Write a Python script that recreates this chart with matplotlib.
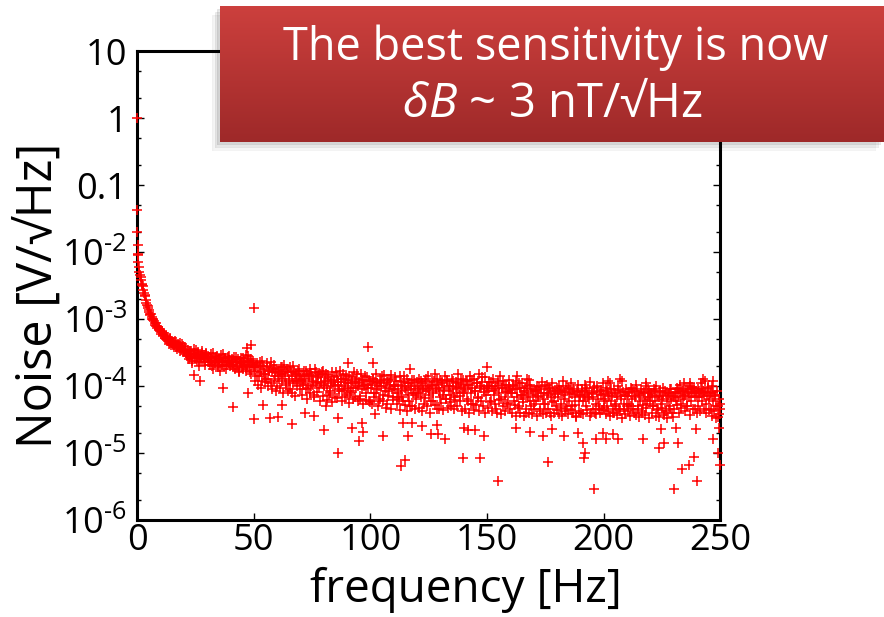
import numpy as np
import matplotlib
matplotlib.use("Agg")
import matplotlib.pyplot as plt
from matplotlib.ticker import FixedLocator, LogLocator, NullFormatter

plt.rcParams['font.family'] = ['Open Sans', 'DejaVu Sans']
plt.rcParams['mathtext.fontset'] = 'custom'
plt.rcParams['mathtext.rm'] = 'Open Sans'
plt.rcParams['mathtext.it'] = 'Open Sans:italic'

# noise spectrum, values in uV/sqrt(Hz)
# set A: bins at 0.5, 1.0, ... 250 Hz ; set B: bins at 0.25, 0.75, ... 249.75 Hz
band_step_hz = 0.5
band_a_0_50 = [7200, 5100, 4300, 3400, 3100, 2450, 2200, 1750, 1550, 1380,
               1200, 1180, 1020, 990, 880, 870, 780, 770, 700, 690,
               640, 590, 620, 530, 560, 500, 470, 520, 450, 480,
               430, 410, 460, 390, 420, 370, 440, 350, 400, 330,
               380, 310, 290, 350, 270, 330, 240, 300, 360, 260,
               290, 320, 230, 280, 250, 310, 270, 210, 300, 260,
               280, 230, 250, 200, 310, 240, 220, 270, 190, 250,
               230, 290, 210, 240, 260, 180, 230, 270, 220, 200,
               250, 200, 230, 180, 270, 210, 160, 240, 220, 190,
               260, 230, 170, 210, 280, 200, 240, 150, 220, 190]
band_a_50_100 = [170, 210, 140, 190, 230, 160, 120, 200, 180, 150,
                 220, 130, 170, 190, 110, 160, 210, 140, 180, 100,
                 160, 130, 190, 120, 150, 210, 140, 110, 170, 130,
                 90, 160, 140, 200, 120, 150, 100, 170, 130, 145,
                 140, 110, 170, 120, 90, 150, 130, 180, 100, 140,
                 120, 75, 160, 110, 135, 95, 150, 115, 170, 105,
                 120, 150, 95, 130, 80, 110, 160, 100, 125, 70,
                 140, 105, 90, 170, 115, 85, 130, 100, 145, 75,
                 110, 140, 85, 120, 95, 160, 70, 130, 100, 115,
                 65, 150, 90, 125, 105, 80, 135, 95, 60, 120]
band_a_100_150 = [105, 130, 80, 115, 150, 90, 60, 120, 100, 140,
                  75, 110, 95, 55, 125, 85, 105, 145, 70, 100,
                  90, 120, 70, 105, 140, 85, 100, 60, 115, 95,
                  130, 75, 110, 50, 90, 125, 80, 100, 65, 115,
                  95, 130, 70, 110, 85, 55, 120, 90, 140, 75,
                  100, 60, 115, 80, 150, 95, 45, 105, 85, 125,
                  110, 75, 95, 140, 65, 120, 85, 100, 50, 130,
                  90, 70, 115, 80, 150, 95, 60, 105, 125, 85,
                  90, 120, 65, 105, 140, 80, 95, 55, 130, 85,
                  110, 70, 150, 100, 60, 115, 90, 135, 75, 100]
band_a_150_200 = [85, 115, 60, 100, 130, 75, 90, 45, 110, 80,
                  140, 65, 95, 120, 70, 105, 55, 85, 125, 90,
                  80, 105, 60, 90, 120, 70, 50, 95, 75, 110,
                  65, 85, 40, 100, 70, 125, 60, 90, 75, 55,
                  85, 60, 100, 70, 45, 90, 115, 65, 80, 55,
                  105, 75, 95, 40, 70, 110, 60, 85, 50, 95,
                  70, 100, 55, 85, 120, 65, 75, 45, 95, 60,
                  80, 110, 50, 90, 70, 35, 85, 105, 60, 75,
                  90, 60, 75, 105, 50, 85, 65, 115, 40, 80,
                  70, 95, 55, 100, 65, 45, 85, 75, 110, 60]
band_a_200_250 = [65, 95, 50, 80, 110, 60, 75, 40, 90, 55,
                  70, 100, 45, 85, 65, 120, 55, 75, 90, 50,
                  80, 55, 95, 65, 45, 85, 70, 105, 50, 75,
                  60, 90, 40, 80, 65, 100, 55, 70, 85, 60,
                  75, 50, 90, 60, 100, 45, 70, 85, 55, 65,
                  95, 40, 80, 60, 75, 50, 90, 65, 35, 70,
                  80, 60, 95, 70, 105, 55, 85, 65, 110, 75,
                  50, 90, 70, 100, 60, 80, 95, 45, 85, 70,
                  90, 70, 110, 60, 85, 75, 120, 55, 95, 65,
                  80, 45, 100, 60, 75, 50, 85, 35, 65, 55]

band_b_0_50 = [9000, 6000, 4600, 3800, 3200, 2700, 2300, 1900, 1650, 1450,
               1300, 1150, 1080, 960, 930, 820, 800, 740, 720, 660,
               610, 660, 560, 580, 510, 540, 480, 430, 500, 410,
               450, 390, 470, 380, 360, 410, 340, 380, 420, 350,
               320, 360, 280, 300, 250, 340, 290, 220, 310, 270,
               350, 240, 300, 200, 280, 330, 250, 290, 230, 310,
               240, 270, 210, 300, 230, 180, 260, 240, 280, 210,
               250, 170, 230, 300, 200, 260, 240, 210, 280, 230,
               210, 240, 190, 270, 230, 200, 250, 170, 220, 260,
               180, 240, 210, 290, 190, 230, 160, 250, 210, 240]
band_b_50_100 = [190, 120, 220, 105, 140, 200, 95, 240, 150, 115,
                 130, 200, 100, 170, 230, 90, 180, 120, 160, 85,
                 140, 170, 95, 150, 190, 80, 160, 105, 180, 85,
                 120, 190, 80, 110, 165, 72, 150, 120, 180, 90,
                 125, 75, 105, 140, 170, 65, 95, 145, 78, 155,
                 105, 68, 180, 115, 82, 145, 60, 110, 160, 72,
                 100, 135, 62, 145, 75, 85, 120, 58, 135, 105,
                 160, 66, 115, 85, 130, 60, 150, 90, 70, 125,
                 95, 56, 80, 110, 135, 64, 115, 95, 150, 60,
                 110, 72, 125, 55, 100, 140, 62, 105, 120, 58]
band_b_100_150 = [95, 55, 130, 70, 80, 110, 50, 100, 65, 125,
                  60, 145, 85, 48, 115, 72, 130, 45, 90, 62,
                  100, 135, 55, 78, 65, 44, 120, 68, 140, 52,
                  88, 42, 112, 60, 100, 50, 80, 125, 46, 75,
                  80, 48, 90, 120, 42, 100, 66, 130, 50, 95,
                  85, 40, 105, 60, 118, 52, 92, 128, 45, 70,
                  56, 115, 44, 88, 64, 125, 48, 100, 58, 75,
                  120, 45, 62, 98, 50, 110, 72, 130, 42, 80,
                  96, 46, 118, 60, 40, 105, 54, 125, 44, 86,
                  52, 112, 66, 42, 95, 135, 50, 82, 40, 100]
band_b_150_200 = [48, 95, 58, 115, 42, 85, 54, 100, 40, 120,
                  62, 38, 95, 50, 105, 42, 82, 56, 98, 45,
                  80, 40, 100, 52, 36, 90, 48, 110, 40, 75,
                  58, 36, 95, 45, 80, 40, 105, 50, 38, 85,
                  46, 88, 36, 72, 98, 42, 80, 38, 54, 100,
                  40, 78, 46, 92, 36, 58, 86, 40, 76, 44,
                  78, 38, 88, 48, 36, 82, 42, 100, 50, 38,
                  92, 44, 76, 40, 86, 52, 36, 82, 42, 72,
                  40, 84, 38, 70, 94, 44, 68, 80, 36, 76,
                  46, 96, 40, 38, 82, 50, 40, 88, 44, 76]
band_b_200_250 = [48, 38, 84, 42, 72, 36, 92, 46, 40, 78,
                  50, 37, 88, 42, 72, 34, 82, 46, 38, 72,
                  42, 82, 36, 50, 92, 40, 72, 37, 86, 46,
                  35, 78, 42, 52, 82, 37, 48, 92, 34, 68,
                  78, 40, 50, 86, 36, 72, 44, 35, 82, 48,
                  72, 37, 86, 42, 33, 78, 46, 92, 40, 72,
                  46, 82, 52, 92, 40, 78, 48, 86, 72, 42,
                  92, 50, 82, 37, 78, 96, 46, 82, 72, 40,
                  50, 86, 42, 78, 92, 46, 82, 40, 72, 96,
                  44, 78, 36, 82, 42, 72, 33, 50, 38, 46]

# isolated points off the main band
outlier_freq_hz = [0.0, 0.1, 0.2, 0.3, 0.4,
                   24.5, 27, 37, 41, 47, 49, 50, 47.6, 50.2, 54, 57, 60.5, 62, 66.5, 72, 76, 80, 81,
                   86, 86.3, 90.5, 92, 95, 96.6, 97, 99, 101, 102, 105.6, 113, 114, 115, 116, 117, 118, 122,
                   126, 128.7, 129, 132, 139.5, 140, 142, 145, 147, 148.5, 150, 154.5, 162.6, 163,
                   167, 168.6, 174, 176, 178, 183, 189, 191, 191.6, 192, 196, 196.6, 199.7, 201, 201.7, 204,
                   206, 207, 216.7, 218, 223.6, 224.5, 225.8, 230, 231, 232, 233.5, 236.5, 237, 238.7,
                   239.5, 240, 242.4, 246.8, 247, 249, 249.3, 250]
outlier_noise_uv = [1000000, 43000, 20000, 13000, 9500,
                    145, 120, 95, 49, 370, 410, 1450, 80, 32, 52, 34, 35, 52, 27, 40, 36, 22, 50,
                    10, 34, 220, 24, 15, 28, 21, 380, 220, 39, 18, 6.5, 28, 8, 18, 180, 28, 25,
                    19, 26, 19, 16, 8.5, 24, 22, 22, 8.5, 18, 190, 3.8, 24, 140,
                    130, 21, 18, 7.4, 23, 18, 20, 14, 8.5, 10, 2.9, 16, 20, 16, 120, 19,
                    16, 130, 16, 110, 12, 23, 14, 2.9, 24, 14, 5.7, 6.7, 110, 8.7,
                    23, 3.8, 130, 16, 120, 10, 24, 6.7]

band_a = np.array(band_a_0_50 + band_a_50_100 + band_a_100_150 + band_a_150_200 + band_a_200_250) * 1e-6
band_b = np.array(band_b_0_50 + band_b_50_100 + band_b_100_150 + band_b_150_200 + band_b_200_250) * 1e-6
freq_a = band_step_hz * np.arange(1, len(band_a) + 1)
freq_b = freq_a - band_step_hz / 2
freq = np.concatenate([freq_a, freq_b, outlier_freq_hz])
noise = np.concatenate([band_a, band_b, np.array(outlier_noise_uv) * 1e-6])

fig = plt.figure(figsize=(8.84, 6.17), dpi=100)
ax = fig.add_axes([0.155, 0.157, 0.66, 0.76])

ax.plot(freq, noise, linestyle='none', marker='+', markersize=7.5,
        markeredgewidth=1.1, color='#ff0000', clip_on=False, zorder=3)

ax.set_yscale('log')
ax.set_xlim(0, 250)
ax.set_ylim(1e-6, 10)
ax.xaxis.set_major_locator(FixedLocator([0, 50, 100, 150, 200, 250]))
ax.yaxis.set_minor_locator(LogLocator(base=10, subs=(2, 5), numticks=20))
ax.yaxis.set_minor_formatter(NullFormatter())
ytick_vals = [1e-6, 1e-5, 1e-4, 1e-3, 1e-2, 0.1, 1, 10]
ytick_labels = ['10$^{\\text{-}6}$', '10$^{\\text{-}5}$', '10$^{\\text{-}4}$', '10$^{\\text{-}3}$',
                '10$^{\\text{-}2}$', '0.1', '1', '10']
ax.set_yticks(ytick_vals)
ax.set_yticklabels(ytick_labels)

for s in ax.spines.values():
    s.set_linewidth(2.2)
ax.tick_params(which='both', direction='in', top=True, right=True, labelsize=26, width=1.0)
ax.tick_params(which='major', length=5)
ax.tick_params(which='minor', length=3)
ax.tick_params(axis='x', pad=2)
ax.tick_params(axis='y', pad=7)

ax.set_xlabel('frequency [Hz]', fontsize=33)
ax.xaxis.set_label_coords(0.563, -0.1)
ax.set_ylabel('Noise [V/\u221aHz]', fontsize=35)
ax.yaxis.set_label_coords(-0.125, 0.48)

# callout box with a vertical red gradient and a soft shadow
for k, a in enumerate([0.08, 0.06, 0.04]):
    sh = fig.add_axes([0.2489 - 0.003 * (k + 1), 0.7699 - 0.005 * (k + 1), 0.7511, 0.2204], zorder=4 + 0.1 * k)
    sh.set_axis_off()
    sh.add_patch(plt.Rectangle((0, 0), 1, 1, transform=sh.transAxes, color='black', alpha=a))

box = fig.add_axes([0.2489, 0.7699, 0.7511, 0.2204], zorder=5)
top_c = np.array([0.80, 0.25, 0.24])
bot_c = np.array([0.62, 0.16, 0.16])
t = np.linspace(0, 1, 128)[:, None, None]
grad = top_c * (1 - t) + bot_c * t
box.imshow(grad, aspect='auto', extent=(0, 1, 0, 1), origin='upper')
box.set_xlim(0, 1)
box.set_ylim(0, 1)
box.set_axis_off()
box.text(0.505, 0.69, 'The best sensitivity is now', color='white', fontsize=32.5,
         ha='center', va='center', transform=box.transAxes)
box.text(0.50, 0.28, '$\\mathit{\u03b4B}$ ~ 3 nT/\u221aHz', color='white', fontsize=34,
         ha='center', va='center', transform=box.transAxes)

fig.savefig('out.png', dpi=100)
